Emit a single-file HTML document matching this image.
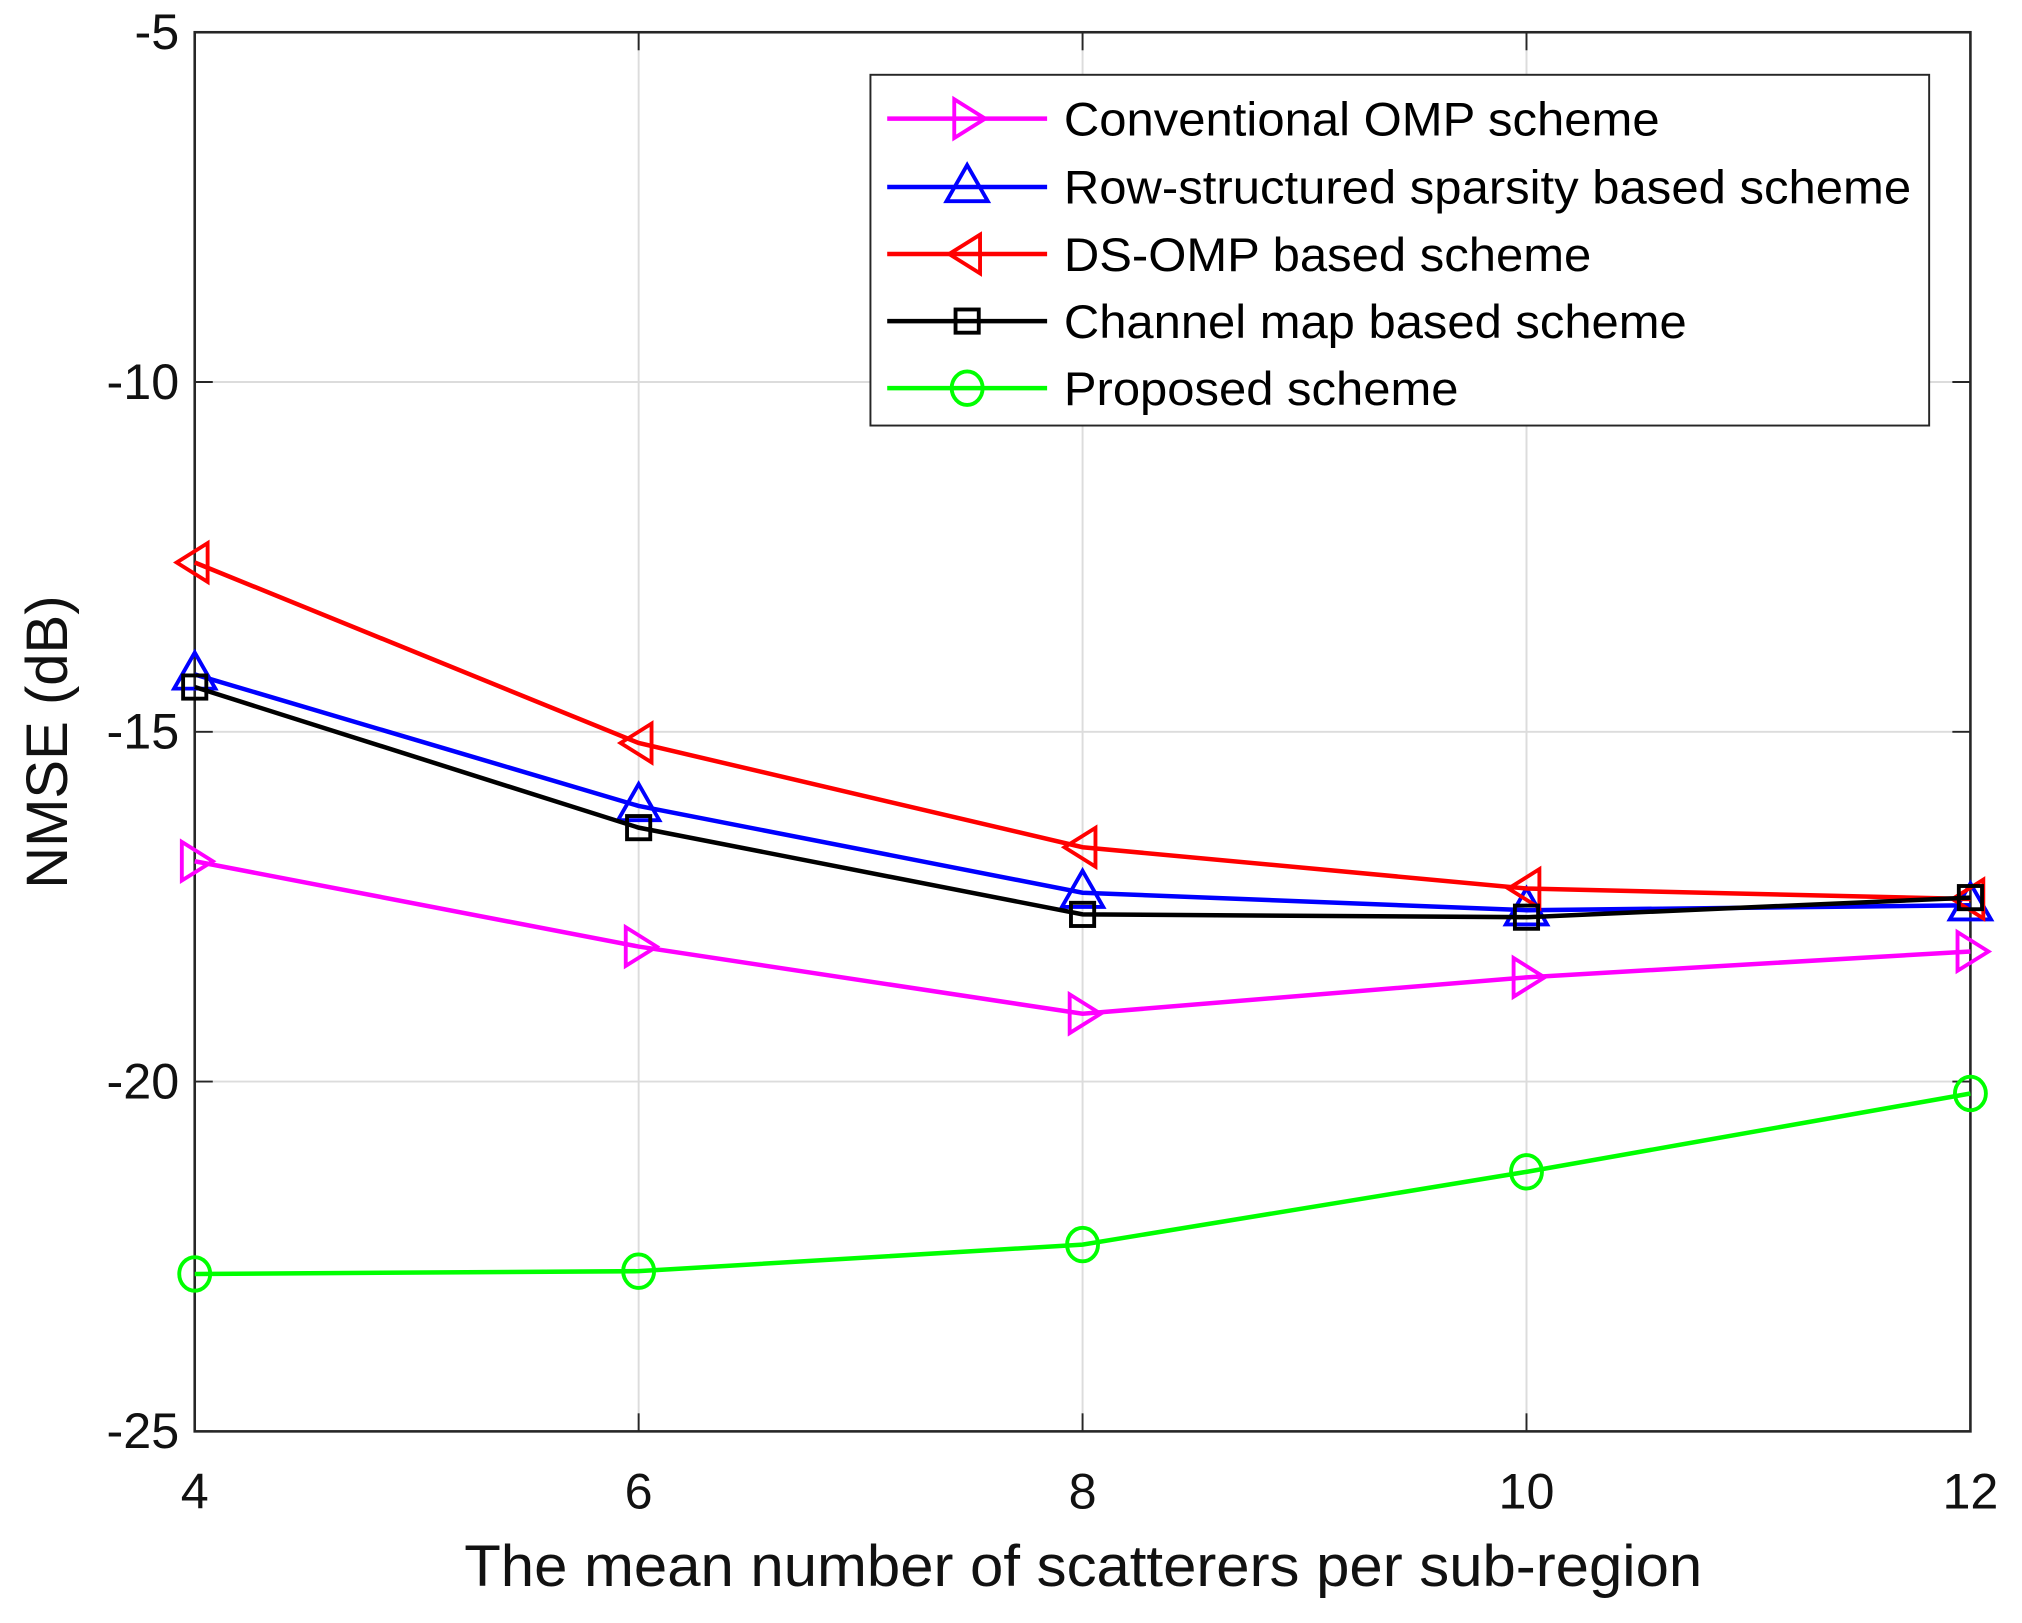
<!DOCTYPE html>
<html><head><meta charset="utf-8"><style>
html,body{margin:0;padding:0;background:#fff;}
svg{display:block;}
text{font-family:"Liberation Sans",Arial,sans-serif;}
</style></head><body>
<svg id="chart" width="2022" height="1623" viewBox="0 0 1568 1258.6" preserveAspectRatio="none" xmlns="http://www.w3.org/2000/svg">
<g id="grid"></g>
<g id="axes"></g>
<g id="series"></g>
<g id="legend"></g>
</svg>
<script>
const xCategories = [4, 6, 8, 10, 12];
const yTicks = [-5, -10, -15, -20, -25];
const xTickLabels = ["4", "6", "8", "10", "12"];
const yTickLabels = ["-5", "-10", "-15", "-20", "-25"];
const seriesNames = ["Conventional OMP scheme", "Row-structured sparsity based scheme", "DS-OMP based scheme", "Channel map based scheme", "Proposed scheme"];
const conventionalOmp = [-16.85, -18.07, -19.03, -18.51, -18.14];
const rowStructured = [-14.18, -16.06, -17.30, -17.55, -17.48];
const dsOmp = [-12.58, -15.16, -16.65, -17.24, -17.39];
const channelMap = [-14.36, -16.37, -17.61, -17.65, -17.37];
const proposed = [-22.75, -22.71, -22.33, -21.29, -20.17];

const NS = "http://www.w3.org/2000/svg";
const L = 151, R = 1528, T = 25, B = 1110;
const xMin = 4, xMax = 12, yMin = -25, yMax = -5;
function xs(v){ return L + (v - xMin) / (xMax - xMin) * (R - L); }
function ys(v){ return B - (v - yMin) / (yMax - yMin) * (B - T); }
function mk(tag, attrs, parent){
  const e = document.createElementNS(NS, tag);
  for (const k in attrs) e.setAttribute(k, attrs[k]);
  parent.appendChild(e);
  return e;
}
const grid = document.getElementById('grid');
const axes = document.getElementById('axes');
const series = document.getElementById('series');
const legend = document.getElementById('legend');

xCategories.forEach((v, i) => {
  const g = mk('line', {x1: xs(v), x2: xs(v), y1: T, y2: B, stroke: '#dcdcdc', 'stroke-width': 1.5}, grid);
  
  
  const t = mk('line', {x1: xs(v), x2: xs(v), y1: B, y2: B - 14, stroke: '#262626', 'stroke-width': 1.5}, axes);
  
  
  const t2 = mk('line', {x1: xs(v), x2: xs(v), y1: T, y2: T + 14, stroke: '#262626', 'stroke-width': 1.5}, axes);
  
  
  const lb = mk('text', {x: xs(v), y: B + 60, 'font-size': 39, 'text-anchor': 'middle', fill: '#111'}, axes);
  lb.textContent = xTickLabels[i];
  
  
});
yTicks.forEach((v, i) => {
  const g = mk('line', {x1: L, x2: R, y1: ys(v), y2: ys(v), stroke: '#dcdcdc', 'stroke-width': 1.5}, grid);
  
  
  const t = mk('line', {x1: L, x2: L + 14, y1: ys(v), y2: ys(v), stroke: '#262626', 'stroke-width': 1.5}, axes);
  
  
  const t2 = mk('line', {x1: R, x2: R - 14, y1: ys(v), y2: ys(v), stroke: '#262626', 'stroke-width': 1.5}, axes);
  
  
  const lb = mk('text', {x: L - 12, y: ys(v) + 13, 'font-size': 39, 'text-anchor': 'end', fill: '#111'}, axes);
  lb.textContent = yTickLabels[i];
  
  
});
const frame = mk('rect', {x: L, y: T, width: R - L, height: B - T, fill: 'none', stroke: '#262626', 'stroke-width': 2}, axes);


const xl = mk('text', {x: 840, y: 1230, 'font-size': 45, 'text-anchor': 'middle', fill: '#111', textLength: 960, lengthAdjust: 'spacingAndGlyphs'}, axes);
xl.textContent = 'The mean number of scatterers per sub-region';


const yl = mk('text', {x: 0, y: 0, 'font-size': 45, 'text-anchor': 'middle', fill: '#111', transform: 'translate(52,' + ((T + B) / 2 + 8) + ') rotate(-90)'}, axes);
yl.textContent = 'NMSE (dB)';



function marker(type, cx, cy, color, parent){
  let e;
  const s = 15;
  if (type === 'right') e = mk('polygon', {points: `${cx-10},${cy-s} ${cx+14},${cy} ${cx-10},${cy+s}`}, parent);
  else if (type === 'up') e = mk('polygon', {points: `${cx},${cy-17} ${cx+16},${cy+11} ${cx-16},${cy+11}`}, parent);
  else if (type === 'left') e = mk('polygon', {points: `${cx+10},${cy-s} ${cx-14},${cy} ${cx+10},${cy+s}`}, parent);
  else if (type === 'square') e = mk('rect', {x: cx - 9, y: cy - 9, width: 18, height: 18}, parent);
  else e = mk('ellipse', {cx: cx, cy: cy, rx: 12, ry: 13}, parent);
  e.setAttribute('fill', 'none');
  e.setAttribute('stroke', color);
  e.setAttribute('stroke-width', 3);
  return e;
}
const allSeries = [conventionalOmp, rowStructured, dsOmp, channelMap, proposed];
const colors = ['#ff00ff', '#0000ff', '#ff0000', '#000000', '#00ff00'];
const markers = ['right', 'up', 'left', 'square', 'circle'];
const names = ['conventional-omp', 'row-structured', 'ds-omp', 'channel-map', 'proposed'];
allSeries.forEach((vals, si) => {
  const g = mk('g', {}, series);
  
  
  const pl = mk('polyline', {points: vals.map((v, i) => xs(xCategories[i]) + ',' + ys(v)).join(' '), fill: 'none', stroke: colors[si], 'stroke-width': 3.5}, g);
  
  
  vals.forEach((v, i) => {
    const m = marker(markers[si], xs(xCategories[i]), ys(v), colors[si], g);
    
    
  });
});

const lb = mk('rect', {x: 675, y: 58, width: 821, height: 272, fill: '#fff', stroke: '#262626', 'stroke-width': 1.5}, legend);


const ly = [92, 145, 197, 249, 301];
const lw = [462, 657, 409, 483, 306];
seriesNames.forEach((n, si) => {
  const g = mk('g', {}, legend);
  
  
  mk('line', {x1: 688, x2: 812, y1: ly[si], y2: ly[si], stroke: colors[si], 'stroke-width': 3.5}, g);
  marker(markers[si], 750, ly[si], colors[si], g);
  const t = mk('text', {x: 825, y: ly[si] + 13, 'font-size': 37, fill: '#000', textLength: lw[si], lengthAdjust: 'spacingAndGlyphs'}, g);
  t.textContent = n;
  
  
});
</script>
</body></html>
